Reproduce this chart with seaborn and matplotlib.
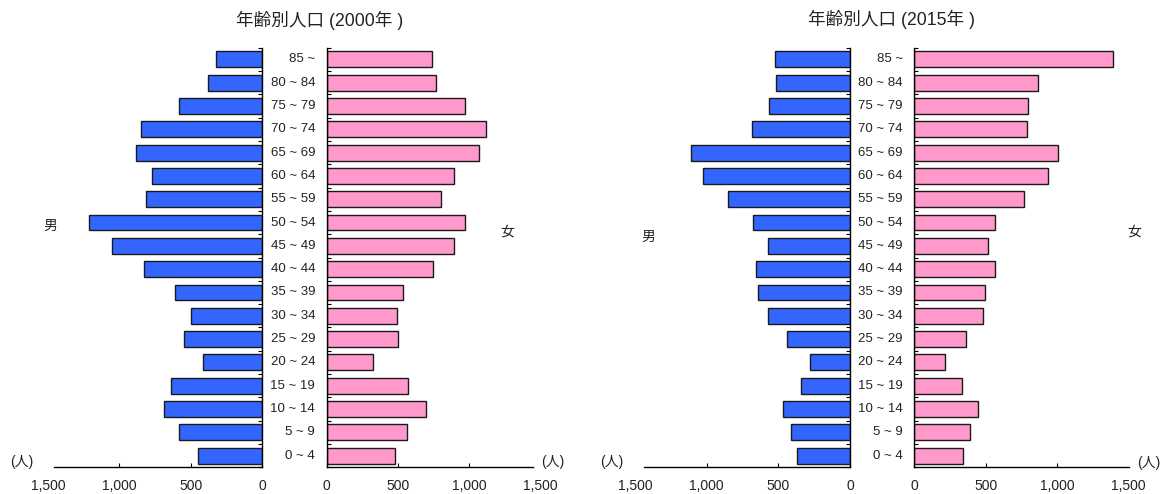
import numpy as np
import pandas as pd
import matplotlib
matplotlib.use("Agg")
import matplotlib.pyplot as plt
import seaborn as sns
from matplotlib import transforms

# Age groups, oldest at the top
ages = ["85 ~", "80 ~ 84", "75 ~ 79", "70 ~ 74", "65 ~ 69", "60 ~ 64",
        "55 ~ 59", "50 ~ 54", "45 ~ 49", "40 ~ 44", "35 ~ 39", "30 ~ 34",
        "25 ~ 29", "20 ~ 24", "15 ~ 19", "10 ~ 14", "5 ~ 9", "0 ~ 4"]

male_2000 = [319, 378, 585, 850, 883, 769, 811, 1210, 1052, 824,
             611, 495, 547, 415, 637, 689, 585, 448]
female_2000 = [741, 769, 971, 1114, 1070, 891, 803, 971, 891, 744,
               536, 495, 503, 324, 573, 697, 565, 477]
male_2015 = [521, 513, 565, 681, 1106, 1026, 850, 674, 575, 653,
             645, 575, 440, 282, 345, 469, 415, 368]
female_2015 = [1390, 868, 798, 788, 1008, 938, 770, 566, 512, 566,
               496, 478, 364, 212, 336, 442, 393, 344]

x_ticks = [0, 500, 1000, 1500]
x_tick_labels = ["0", "500", "1,000", "1,500"]
titles = ["年齢別人口 (2000年 )", "年齢別人口 (2015年 )"]

MALE_COLOR = "#3366FF"
FEMALE_COLOR = "#FF99CC"
EDGE = "#1a1a1a"

sns.set_theme(style="white")
plt.rcParams["font.family"] = ["Liberation Sans", "Noto Sans CJK JP"]

W, H = 1169, 494
fig = plt.figure(figsize=(W / 100, H / 100), dpi=100)

AX_TOP, AX_BOTTOM = 47.7, 467.3


def add_ax(x0, x1):
    return fig.add_axes([x0 / W, 1 - AX_BOTTOM / H, (x1 - x0) / W,
                         (AX_BOTTOM - AX_TOP) / H])


def draw_side(ax, values, color, male, bound):
    df = pd.DataFrame({"age": ages, "count": values})
    sns.barplot(data=df, x="count", y="age", orient="h", color=color,
                saturation=1, edgecolor=EDGE, linewidth=1.0, width=0.68,
                ax=ax)
    n = len(ages)
    ax.set_ylim(n - 0.5, -0.5)
    ax.set_xlim((1500, 0) if male else (0, 1500))
    ax.set_xlabel("")
    ax.set_ylabel("")
    ax.set_yticks([])
    ax.set_yticks(np.arange(-0.5, n), minor=True)
    ax.set_xticks(x_ticks)
    ax.set_xticklabels(x_tick_labels)
    for side in ["top", "left", "right", "bottom"]:
        ax.spines[side].set_visible(False)
    ax.spines["bottom"].set_visible(True)
    ax.spines["right" if male else "left"].set_visible(True)
    for side in ["bottom", "left", "right"]:
        ax.spines[side].set_color("black")
        ax.spines[side].set_linewidth(1.0)
    ax.spines["bottom"].set_bounds(0, bound)
    ax.tick_params(axis="x", direction="in", length=3, width=0.8,
                   pad=8.5, labelsize=10, color="black", labelcolor="#222222",
                   top=False, bottom=True)
    ax.tick_params(axis="y", which="minor", direction="in", length=3,
                   width=0.8, color="black", left=not male, right=male)
    ax.tick_params(axis="y", which="major", left=False, right=False)
    ax.xaxis.get_major_ticks()[-1].tick1line.set_visible(False)
    ax.patch.set_visible(False)
    ax.grid(False)


panels = [
    # (male 1500 px, male 0 px, female 0 px, female 1500 px, male, female, bounds)
    (47.9, 262.0, 326.7, 540.6, male_2000, female_2000, (1460, 1445)),
    (635.0, 850.0, 914.3, 1128.8, male_2015, female_2015, (1437, 1500)),
]

for (m0, m1, f0, f1, mv, fv, bounds) in panels:
    ax_m = add_ax(m0, m1)
    ax_f = add_ax(f0, f1)
    draw_side(ax_m, mv, MALE_COLOR, True, bounds[0])
    draw_side(ax_f, fv, FEMALE_COLOR, False, bounds[1])
    trans = transforms.blended_transform_factory(fig.transFigure, ax_f.transData)
    for i, lab in enumerate(ages):
        ax_f.text((f0 - 11.5) / W, i, lab, transform=trans, ha="right",
                  va="center", fontsize=9.5, color="#222222", clip_on=False)


def fig_text(x, y, s, size, **kw):
    fig.text(x / W, 1 - y / H, s, ha="center", va="center", fontsize=size,
             color="#222222", **kw)


fig_text(320, 20.7, titles[0], 12.7)
fig_text(891.7, 19.3, titles[1], 12.7)

for x, y in [(21.7, 462), (553, 462), (612, 461.7), (1149, 463.3)]:
    fig_text(x, y, "(人)", 10)

fig_text(50, 226, "男", 10, family="Noto Sans CJK JP")
fig_text(507, 231.7, "女", 10, family="Noto Sans CJK JP")
fig_text(648.5, 236.7, "男", 10, family="Noto Sans CJK JP")
fig_text(1134, 231.7, "女", 10, family="Noto Sans CJK JP")

fig.savefig("out.png", dpi=100, facecolor="white")
